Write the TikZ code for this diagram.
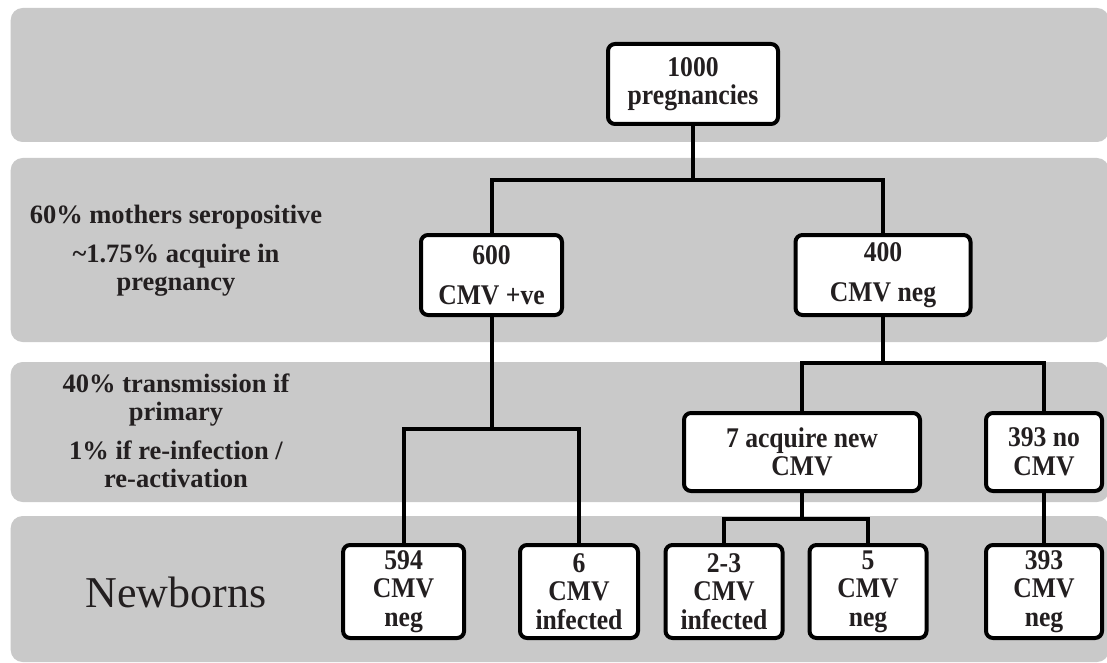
\documentclass[tikz,border=0pt]{standalone}
\usepackage{fontspec}
\setmainfont{Liberation Serif}
\newfontfamily\boxfont[FakeStretch=0.9]{Liberation Serif}
\usepackage{xcolor}
\definecolor{bandgray}{HTML}{C9C9C9}
\definecolor{inkgray}{HTML}{231F20}
\usetikzlibrary{positioning}

\begin{document}
\begin{tikzpicture}[x=1pt,y=-1pt,
  band/.style={fill=bandgray, rounded corners=12pt},
  box/.style={draw=black, fill=white, line width=4pt, rounded corners=7pt,
    inner sep=0pt, align=center, text=inkgray,
    font=\boxfont\bfseries\fontsize{28.5}{28.5}\selectfont},
  note/.style={align=center, text=inkgray,
    font=\bfseries\fontsize{26.5}{28}\selectfont},
  link/.style={draw=black, line width=4pt}]

  \fill[white] (0,0) rectangle (1107,663);
  \useasboundingbox (0,0) rectangle (1107,663);

  % grey rows
  \fill[band] (10.7,8) rectangle (1109,142);
  \fill[band] (10.7,158) rectangle (1109,342);
  \fill[band] (10.7,362) rectangle (1109,502);
  \fill[band] (10.7,516) rectangle (1109,662);

  % row texts
  \node[note] (serotext) at (176,251)
  {60\% mothers seropositive\\[11pt]\textasciitilde1.75\% acquire in\\pregnancy};
  \node[note] (transtext) at (176,431)
  {40\% transmission if\\primary\\[11pt]1\% if re-infection /\\re-activation};
  \node[text=inkgray, font=\fontsize{44}{48}\selectfont]
  (newborns) at (176,592) {Newborns};

  % boxes
  \node[box, minimum width=170pt, minimum height=80pt]
  (top) at (693,84) {1000\\pregnancies};
  \node[box, minimum width=141pt, minimum height=80pt]
  (pos) at (491.5,275) {600\\[12pt]CMV +ve};
  \node[box, minimum width=175pt, minimum height=80pt]
  (neg) at (883,275) {400\\[12pt]CMV neg};
  \node[box, minimum width=236pt, minimum height=78pt]
  (newcmv) at (802,452) {7 acquire new\\CMV};
  \node[box, minimum width=116pt, minimum height=78pt]
  (nocmv) at (1044,452) {393 no\\CMV};

  \node[box, minimum width=121pt, minimum height=93pt]
  (posneg) at (403.6,591.5) {594\\CMV\\neg};
  \node[box, minimum width=118pt, minimum height=93pt]
  (posinf) at (579,591.5) {6\\CMV\\infected};
  \node[box, minimum width=117pt, minimum height=93pt]
  (newinf) at (724,591.5) {2-3\\CMV\\infected};
  \node[box, minimum width=117pt, minimum height=93pt]
  (newneg) at (868,591.5) {5\\CMV\\neg};
  \node[box, minimum width=116pt, minimum height=93pt]
  (noneg) at (1044,591.5) {393\\CMV\\neg};

  % branch points
  \coordinate (j1) at (693,180);
  \coordinate (j2) at (491.5,429);
  \coordinate (j3) at (883,363);
  \coordinate (j4) at (802,519);

  \draw[link] (top.south) -- (j1);
  \draw[link] (pos.north) |- (j1) -| (neg.north);
  \draw[link] (pos.south) -- (j2);
  \draw[link] (posneg.north) |- (j2) -| (posinf.north);
  \draw[link] (neg.south) -- (j3);
  \draw[link] (newcmv.north) |- (j3) -| (nocmv.north);
  \draw[link] (newcmv.south) -- (j4);
  \draw[link] (newinf.north) |- (j4) -| (newneg.north);
  \draw[link] (nocmv.south) -- (noneg.north);

\end{tikzpicture}
\end{document}
